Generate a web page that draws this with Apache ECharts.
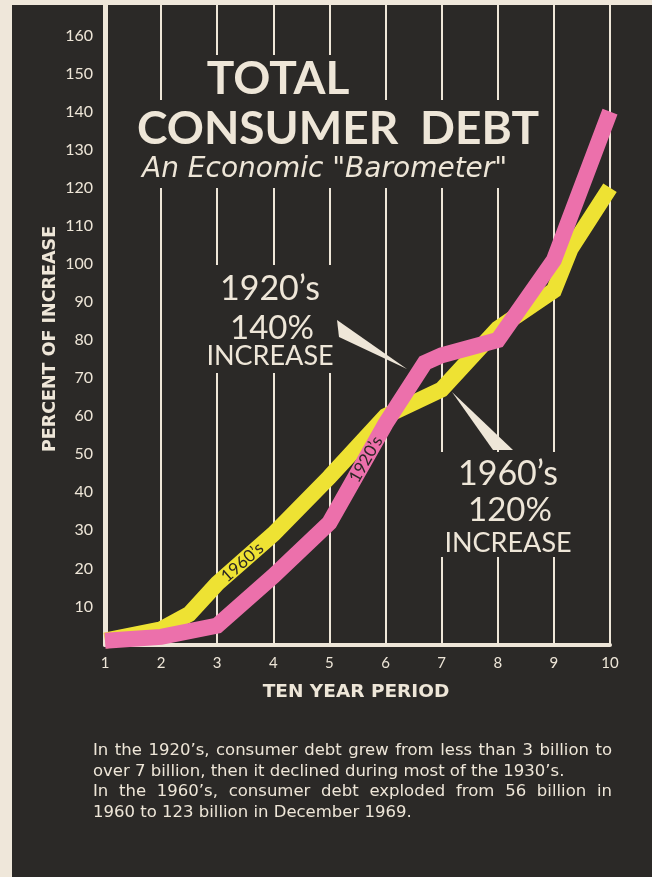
<!DOCTYPE html>
<html><head><meta charset="utf-8">
<script src="https://cdn.jsdelivr.net/npm/echarts@6/dist/echarts.min.js"></script>
<style>
html,body{margin:0;padding:0;background:#efe7da;}
#c{width:652px;height:877px;background:linear-gradient(#2b2927,#2b2927) 12px 5px/640px 872px no-repeat,#efe7da;}
</style></head><body><div id="c"></div>
<script>
// ---- data ----
const xTicks = [1, 2, 3, 4, 5, 6, 7, 8, 9, 10];
const yTicks = [10, 20, 30, 40, 50, 60, 70, 80, 90, 100, 110, 120, 130, 140, 150, 160];
const period1920s = [1, 2, 3, 4, 5, 6, 6.7, 7, 8, 9, 10];
const increase1920s = [1, 2, 5, 18, 32, 58, 74, 76, 80, 101, 140];
const period1960s = [1, 2, 2.5, 3, 4, 5, 6, 7, 8, 9, 9.3, 10];
const increase1960s = [1, 4, 8, 16, 29, 44, 60, 67, 83, 93, 104, 120];
const paragraph = [
  "In the 1920\u2019s, consumer debt grew from less than 3 billion to",
  "over 7 billion, then it declined during most of the 1930\u2019s.",
  "In the 1960\u2019s, consumer debt exploded from 56 billion in",
  "1960 to 123 billion in December 1969."
];
const justified = [true, false, true, false];

const CREAM = '#eee6d8';
const BG = '#2b2927';
const PINK = '#ec70ab';
const YELLOW = '#eee233';
const BAND = 16;

const chart = echarts.init(document.getElementById('c'), null, {renderer: 'canvas'});

function txt(text, x, y, font, opts) {
  opts = opts || {};
  return {
    type: 'text', x: x, y: y, z: 20, rotation: opts.rotation || 0,
    style: {
      text: text, font: font, fill: opts.fill || CREAM,
      align: opts.align || 'center', textAlign: opts.align || 'center',
      verticalAlign: 'middle', textVerticalAlign: 'middle'
    }
  };
}
function rect(x, y, w, h) {
  return {type: 'rect', z: 10, shape: {x: x, y: y, width: w, height: h}, style: {fill: BG}};
}

// justified paragraph via measured words
const mctx = document.createElement('canvas').getContext('2d');
const pFont = '16.5px "DejaVu Sans"';
mctx.font = pFont;
const paraEls = [];
const px0 = 93, px1 = 612, py0 = 751, pdy = 20.5;
paragraph.forEach(function (line, i) {
  const y = py0 + i * pdy;
  if (!justified[i]) { paraEls.push(txt(line, px0, y, pFont, {align: 'left'})); return; }
  const words = line.split(' ');
  const widths = words.map(function (w) { return mctx.measureText(w).width; });
  const total = widths.reduce(function (a, b) { return a + b; }, 0);
  const gap = Math.max(4, (px1 - px0 - total) / (words.length - 1));
  let x = px0;
  words.forEach(function (w, k) {
    paraEls.push(txt(w, x, y, pFont, {align: 'left'}));
    x += widths[k] + gap;
  });
});

const baseElements = [
  rect(190, 55, 155, 46),
  rect(135, 100, 410, 88),
  rect(198, 265, 144, 108),
  rect(432, 452, 148, 105),
  txt('TOTAL', 278, 79, 'bold 46px Lato'),
  txt('CONSUMER', 137, 129, 'bold 46px Lato', {align: 'left'}),
  txt('DEBT', 539, 129, 'bold 46px Lato', {align: 'right'}),
  txt('An Economic "Barometer"', 142, 170, 'oblique 28px "DejaVu Sans"', {align: 'left'}),
  txt('1920\u2019s', 270, 289, '34px Lato'),
  txt('140%', 272, 328, '33px Lato'),
  txt('INCREASE', 270, 356, '27px Lato'),
  {type: 'polygon', z: 20, shape: {points: [[337, 320], [339, 337], [407, 369]]}, style: {fill: CREAM}},
  txt('1960\u2019s', 508, 474, '34px Lato'),
  txt('120%', 510, 510, '33px Lato'),
  txt('INCREASE', 508, 543, '27px Lato'),
  {type: 'polygon', z: 20, shape: {points: [[452, 392], [493, 450], [513, 450]]}, style: {fill: CREAM}},
  txt('PERCENT OF INCREASE', 50, 339, 'bold 17.5px "DejaVu Sans"', {rotation: Math.PI / 2}),
  txt('TEN YEAR PERIOD', 356, 692, 'bold 18.5px "DejaVu Sans"')
].concat(paraEls);

function buildOption(extra) {
  return {
    backgroundColor: 'transparent',
    animation: false,
    grid: {left: 105, right: 42, top: 5, bottom: 232.5, containLabel: false},
    xAxis: {
      type: 'value', min: 1, max: 10, interval: 1, offset: 2,
      axisLine: {show: true, lineStyle: {color: CREAM, width: 4}},
      axisTick: {show: false},
      axisLabel: {color: CREAM, fontFamily: 'Lato', fontSize: 15, margin: 9,
        formatter: function (v) { return xTicks.indexOf(v) >= 0 ? String(v) : ''; }},
      splitLine: {show: true, lineStyle: {color: CREAM, width: 2}}
    },
    yAxis: {
      type: 'value', min: 0, max: 168, interval: 10,
      axisLine: {show: true, lineStyle: {color: CREAM, width: 5}},
      axisTick: {show: false},
      axisLabel: {color: CREAM, fontFamily: 'Lato', fontSize: 16, margin: 12,
        formatter: function (v) { return yTicks.indexOf(v) >= 0 ? String(v) : ''; }},
      splitLine: {show: false}
    },
    series: [
      {
        name: "1960's", type: 'line', z: 3, symbol: 'none', silent: true,
        data: period1960s.map(function (p, i) { return [p, increase1960s[i]]; }),
        lineStyle: {color: YELLOW, width: BAND, join: 'miter', cap: 'butt'}
      },
      {
        name: "1920's", type: 'line', z: 4, symbol: 'none', silent: true,
        data: period1920s.map(function (p, i) { return [p, increase1920s[i]]; }),
        lineStyle: {color: PINK, width: BAND, join: 'miter', cap: 'butt'}
      }
    ],
    graphic: {elements: baseElements.concat(extra)}
  };
}
chart.setOption(buildOption([]));

// band labels placed on the drawn ribbons
function along(xs, ys, xv) {
  let i = 0;
  while (i < xs.length - 2 && xs[i + 1] < xv) i++;
  const p0 = chart.convertToPixel({gridIndex: 0}, [xs[i], ys[i]]);
  const p1 = chart.convertToPixel({gridIndex: 0}, [xs[i + 1], ys[i + 1]]);
  const t = (xv - xs[i]) / (xs[i + 1] - xs[i]);
  return {
    x: p0[0] + t * (p1[0] - p0[0]),
    y: p0[1] + t * (p1[1] - p0[1]),
    r: Math.atan2(p0[1] - p1[1], p1[0] - p0[0])
  };
}
const a = along(period1960s, increase1960s, 3.45);
const b = along(period1920s, increase1920s, 5.65);
chart.setOption(buildOption([
  txt('1960\u2019s', a.x, a.y + 1, '17px Lato', {fill: '#2a2624', rotation: a.r}),
  txt('1920\u2019s', b.x, b.y + 1, '17px Lato', {fill: '#2a2624', rotation: b.r})
]), true);
</script></body></html>
